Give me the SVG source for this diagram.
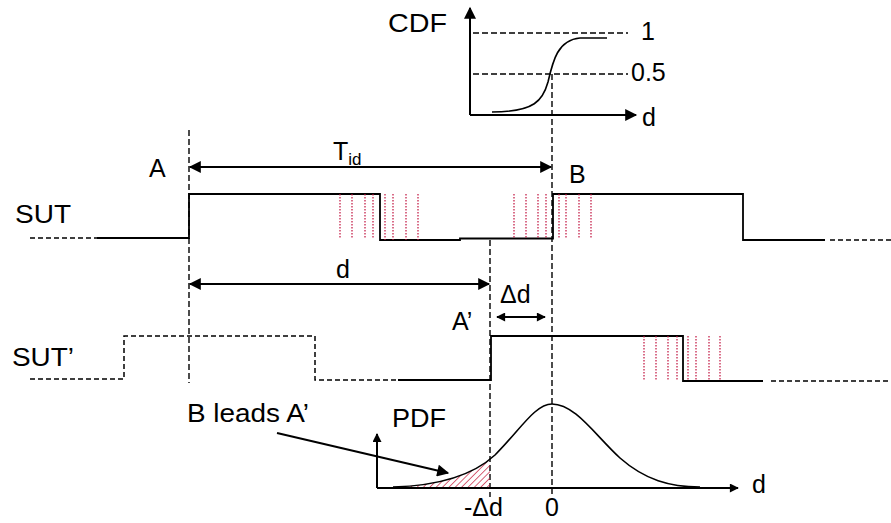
<svg xmlns="http://www.w3.org/2000/svg" width="891" height="523" viewBox="0 0 891 523">
<style>
.t{font-family:"Liberation Sans",Arial,sans-serif;font-size:25px;fill:#000}
.w{fill:none;stroke:#000;stroke-width:1.8}
.wd{fill:none;stroke:#000;stroke-width:1.5;stroke-dasharray:5,3}
.g{fill:none;stroke:#000;stroke-width:1.4;stroke-dasharray:6,3}
.r{fill:none;stroke:#c0103c;stroke-width:1.2;stroke-dasharray:1.5,1.5}
.a{fill:none;stroke:#000;stroke-width:2}
.c{fill:none;stroke:#000;stroke-width:1.6}
</style>
<defs>
<marker id="ah" viewBox="0 0 10 10" refX="9" refY="5" markerWidth="10" markerHeight="9" markerUnits="userSpaceOnUse" orient="auto-start-reverse"><path d="M0,0 L10,5 L0,10 z" fill="#000"/></marker>
<marker id="ahL" viewBox="0 0 10 10" refX="9" refY="5" markerWidth="14" markerHeight="12" markerUnits="userSpaceOnUse" orient="auto-start-reverse"><path d="M0,0 L10,5 L0,10 z" fill="#000"/></marker>
<pattern id="hatch" width="4.5" height="4.5" patternUnits="userSpaceOnUse" patternTransform="rotate(45)"><line x1="0" y1="0" x2="0" y2="4.5" stroke="#c8203f" stroke-width="1.4"/></pattern>
<clipPath id="clipL"><rect x="380" y="400" width="110" height="88"/></clipPath>
</defs>

<g id="cdf">
<line class="a" x1="470" y1="115" x2="470" y2="8" marker-end="url(#ahL)"/>
<line class="a" x1="470" y1="115" x2="636" y2="115" marker-end="url(#ahL)"/>
<line class="g" x1="473" y1="33" x2="628" y2="33"/>
<line class="g" x1="473" y1="74" x2="628" y2="74"/>
<path class="c" d="M492,112 C535,112 543,100 548,82 C553,60 558,40 580,38 L607,38"/>
<text class="t" x="388" y="32" textLength="59" lengthAdjust="spacingAndGlyphs">CDF</text>
<text class="t" x="641" y="40">1</text>
<text class="t" x="631" y="81">0.5</text>
<text class="t" x="642" y="126">d</text>
</g>

<g id="guides">
<line class="g" x1="189" y1="130" x2="189" y2="383"/>
<line class="g" x1="552" y1="74" x2="552" y2="496"/>
<line class="g" x1="490" y1="240" x2="490" y2="497"/>
</g>

<g id="sut">
<line class="wd" x1="30" y1="238" x2="97" y2="238"/>
<path class="w" d="M97,238 H189 V194 H380 V240 H460 V238.5 H553 V194 H743 V240 H825"/>
<line class="wd" x1="830" y1="240" x2="891" y2="240"/>
<g class="r">
<line x1="340" y1="194" x2="340" y2="238"/><line x1="352" y1="194" x2="352" y2="238"/><line x1="365" y1="194" x2="365" y2="238"/><line x1="373" y1="194" x2="373" y2="238"/>
<line x1="385" y1="194" x2="385" y2="240"/><line x1="393" y1="194" x2="393" y2="240"/><line x1="406" y1="194" x2="406" y2="240"/><line x1="418" y1="194" x2="418" y2="240"/>
<line x1="514" y1="194" x2="514" y2="238"/><line x1="526" y1="194" x2="526" y2="238"/><line x1="538" y1="194" x2="538" y2="238"/><line x1="546" y1="194" x2="546" y2="238"/>
<line x1="559" y1="194" x2="559" y2="238"/><line x1="566" y1="194" x2="566" y2="238"/><line x1="579" y1="194" x2="579" y2="238"/><line x1="591" y1="194" x2="591" y2="238"/>
</g>
<text class="t" x="15" y="223" textLength="56" lengthAdjust="spacingAndGlyphs">SUT</text>
<text class="t" x="149" y="177">A</text>
<text class="t" x="569" y="183">B</text>
</g>

<g id="sut2">
<path class="wd" d="M30,379 H124 V336 H315 V380 H398"/>
<path class="w" d="M398,380 H491 V336 H683 V381 H763"/>
<line class="wd" x1="771" y1="381" x2="891" y2="381"/>
<g class="r">
<line x1="644" y1="336" x2="644" y2="380"/><line x1="656" y1="336" x2="656" y2="380"/><line x1="668" y1="336" x2="668" y2="380"/><line x1="677" y1="336" x2="677" y2="380"/>
<line x1="688" y1="336" x2="688" y2="381"/><line x1="696" y1="336" x2="696" y2="381"/><line x1="709" y1="336" x2="709" y2="381"/><line x1="720" y1="336" x2="720" y2="381"/>
</g>
<text class="t" x="12" y="366" textLength="62" lengthAdjust="spacingAndGlyphs">SUT’</text>
<text class="t" x="452" y="330">A’</text>
</g>

<g id="pdf">
<path d="M393,488 L393,487 C430,486 470,478 495,455 L495,488 Z" fill="url(#hatch)" clip-path="url(#clipL)"/>
<line class="a" x1="377" y1="488" x2="377" y2="434" marker-end="url(#ah)"/>
<line class="a" x1="377" y1="488" x2="738" y2="488" marker-end="url(#ah)"/>
<path class="c" d="M393,487 C430,486 470,478 495,455 C520,430 535,404 552,404 C575,404 595,435 620,458 C645,480 670,487 700,487"/>
<text class="t" x="392" y="427" textLength="54" lengthAdjust="spacingAndGlyphs">PDF</text>
<text class="t" x="752" y="493">d</text>
<text class="t" x="464" y="516">-Δd</text>
<text class="t" x="545" y="516">0</text>
</g>

<g id="connectors">
<line class="a" x1="190" y1="167" x2="551" y2="167" marker-start="url(#ahL)" marker-end="url(#ahL)"/>
<line class="a" x1="190" y1="284" x2="489" y2="284" marker-start="url(#ahL)" marker-end="url(#ahL)"/>
<line class="a" x1="497" y1="317" x2="545" y2="317" marker-start="url(#ah)" marker-end="url(#ah)"/>
<line class="a" x1="277" y1="433" x2="448" y2="473" marker-end="url(#ahL)"/>
<text class="t" x="333" y="160">T<tspan font-size="17" dy="5">id</tspan></text>
<text class="t" x="336" y="278">d</text>
<text class="t" x="500" y="303">Δd</text>
<text class="t" x="187" y="422" textLength="122" lengthAdjust="spacingAndGlyphs">B leads A’</text>
</g>
</svg>
